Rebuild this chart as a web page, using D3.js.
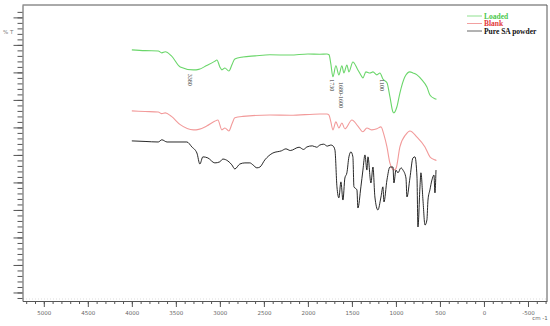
<!DOCTYPE html>
<html>
<head>
<meta charset="utf-8">
<script src="https://cdn.jsdelivr.net/npm/d3@7"></script>
<style>
  body { margin: 0; background: #fff; }
  svg { display: block; }
</style>
</head>
<body>
<div id="graph"></div>
<script>
// FTIR spectra, wavenumber (cm-1) vs %T, curves offset as in the original
const loadedWn = [4000, 3850, 3700, 3660, 3620, 3550, 3450, 3300, 3240, 3150, 3060, 3034, 3000, 2977, 2943, 2898, 2860, 2830, 2739, 2600, 2432, 2200, 2000, 1864, 1784, 1760, 1739, 1716, 1682, 1648, 1614, 1591, 1557, 1534, 1489, 1432, 1386, 1375, 1341, 1295, 1261, 1216, 1182, 1148, 1102, 1068, 1034, 1023, 989, 955, 898, 841, 807, 761, 705, 648, 614, 557, 540];
const loadedT = [88.2, 87.9, 87.8, 87.1, 87.5, 86.0, 82.0, 80.9, 81.1, 82.5, 84.0, 84.5, 82.0, 80.9, 81.6, 80.5, 83.0, 84.9, 85.6, 86.0, 86.4, 86.3, 86.7, 86.6, 86.7, 86.4, 83.0, 78.4, 82.4, 79.1, 82.4, 79.8, 82.7, 80.2, 83.8, 80.9, 78.4, 78.0, 80.2, 79.8, 80.2, 79.1, 79.8, 77.6, 76.2, 71.1, 65.6, 65.3, 67.5, 72.5, 78.4, 80.2, 79.8, 79.1, 77.3, 74.7, 71.8, 70.4, 70.2];

const blankWn = [4000, 3850, 3700, 3660, 3620, 3550, 3450, 3300, 3240, 3150, 3060, 3023, 2977, 2943, 2898, 2860, 2830, 2739, 2432, 2200, 1864, 1784, 1760, 1739, 1716, 1682, 1648, 1614, 1580, 1500, 1432, 1375, 1330, 1273, 1216, 1170, 1136, 1102, 1068, 1023, 1000, 955, 886, 841, 761, 670, 614, 557, 540];
const blankT = [66.0, 65.8, 65.6, 65.0, 65.3, 64.0, 61.0, 59.1, 59.3, 60.5, 62.2, 62.7, 59.1, 59.8, 58.7, 61.5, 63.5, 64.0, 64.5, 64.4, 64.9, 64.9, 64.5, 62.0, 59.1, 62.0, 59.8, 61.6, 59.5, 62.7, 60.5, 58.4, 59.8, 59.1, 59.5, 60.2, 57.3, 52.9, 47.0, 44.5, 45.0, 52.9, 57.5, 58.7, 56.5, 52.9, 49.3, 48.2, 48.0];

const pureWn = [4000, 3850, 3700, 3659, 3600, 3375, 3318, 3261, 3227, 3193, 3136, 3057, 3000, 2966, 2909, 2864, 2830, 2773, 2716, 2659, 2625, 2580, 2545, 2489, 2398, 2300, 2250, 2200, 2100, 2050, 2011, 1950, 1900, 1864, 1820, 1780, 1740, 1716, 1693, 1670, 1648, 1625, 1602, 1580, 1557, 1534, 1511, 1489, 1477, 1443, 1432, 1398, 1375, 1352, 1330, 1318, 1284, 1261, 1239, 1205, 1170, 1148, 1136, 1102, 1068, 1034, 1023, 1000, 977, 943, 920, 886, 875, 841, 807, 784, 761, 750, 727, 716, 693, 670, 648, 636, 614, 591, 568, 557, 545];
const pureT = [55.1, 54.9, 54.7, 55.5, 54.7, 54.7, 52.9, 50.7, 46.7, 49.3, 48.9, 47.1, 47.5, 48.5, 47.8, 46.4, 44.9, 46.7, 47.1, 47.1, 46.4, 45.3, 45.6, 48.2, 50.7, 51.5, 52.2, 51.6, 52.8, 52.0, 52.9, 53.3, 52.8, 53.6, 53.9, 53.2, 53.6, 53.3, 51.8, 38.4, 34.4, 40.2, 33.6, 41.6, 43.5, 49.3, 51.1, 49.3, 38.4, 37.3, 30.7, 38.4, 44.5, 50.0, 44.5, 49.3, 39.8, 45.6, 34.7, 30.0, 34.7, 38.4, 32.9, 40.9, 45.6, 45.6, 39.8, 44.5, 43.5, 45.3, 44.5, 41.6, 34.7, 41.6, 48.9, 49.3, 42.0, 23.8, 38.4, 43.5, 33.6, 24.5, 26.4, 33.6, 37.3, 40.9, 42.7, 36.2, 44.5];

const seriesNames = ["Loaded", "Blank", "Pure SA powder"];
const lineColors = ["#6ad66a", "#f29a9a", "#111"];
const legendColors = ["#4cc84c", "#e23a3a", "#111"];
const legendLineColors = ["#8fe08f", "#f2a0a0", "#666"];

// peak labels: text, wavenumber position, %T position (top of text)
const peakText = ["3380", "1730", "1680-1600", "1100"];
const peakWn = [3340, 1725, 1620, 1160];
const peakT = [79.5, 77.5, 76.5, 77.5];

const xTicksMajor = d3.range(5000, -501, -500);
const xTicksMinor = d3.range(5200, -701, -100);

const W = 550, H = 326;
const svg = d3.select("#graph").append("svg").attr("width", W).attr("height", H);

const x = d3.scaleLinear().domain([5242, -716]).range([22.5, 547]);
const y = d3.scaleLinear().domain([-3.1, 104.5]).range([301, 5]);

// frame top and right
svg.append("path")
  .attr("d", `M${x.range()[0]},5H547V301`)
  .attr("fill", "none").attr("stroke", "#555").attr("stroke-width", 1);

// faint dotted baseline
svg.append("line")
  .attr("x1", 23).attr("x2", 546).attr("y1", 299).attr("y2", 299)
  .attr("stroke", "#ddd").attr("stroke-dasharray", "1,2");

// x axis
const xAxisMinor = d3.axisBottom(x).tickValues(xTicksMinor).tickSize(3).tickFormat("");
const xAxis = d3.axisBottom(x).tickValues(xTicksMajor).tickSize(6).tickSizeOuter(0)
  .tickPadding(4).tickFormat(d => String(d));
svg.append("g").attr("transform", "translate(0,301)").call(xAxisMinor)
  .call(g => g.select(".domain").remove())
  .selectAll("line").attr("stroke", "#555");
const gx = svg.append("g").attr("transform", "translate(0,301)").call(xAxis);
gx.select(".domain").attr("stroke", "#555");
gx.selectAll("line").attr("stroke", "#555");
gx.selectAll("text").attr("font-family", "DejaVu Sans").attr("font-size", 5.5).attr("fill", "#666");

svg.append("text").attr("x", 540).attr("y", 320).attr("text-anchor", "middle")
  .attr("font-family", "DejaVu Sans").attr("font-size", 5.5).attr("fill", "#666").text("cm -1");

// y axis
const yAxisMinor = d3.axisLeft(y).tickValues(d3.range(-2, 104, 2)).tickSize(5).tickFormat("");
const yAxis = d3.axisLeft(y).tickValues(d3.range(0, 101, 10)).tickSize(9).tickSizeOuter(0).tickFormat("");
svg.append("g").attr("transform", "translate(22.5,0)").call(yAxisMinor)
  .call(g => g.select(".domain").remove())
  .selectAll("line").attr("stroke", "#555");
const gy = svg.append("g").attr("transform", "translate(22.5,0)").call(yAxis);
gy.select(".domain").attr("stroke", "#555");
gy.selectAll("line").attr("stroke", "#555");

svg.append("text").attr("x", 3).attr("y", 34)
  .attr("font-family", "DejaVu Sans").attr("font-size", 5.5).attr("fill", "#777").text("% T");

// spectra
const line = d3.line().x(d => x(d[0])).y(d => y(d[1])).curve(d3.curveMonotoneX);
const series = [
  d3.zip(loadedWn, loadedT),
  d3.zip(blankWn, blankT),
  d3.zip(pureWn, pureT)
];
svg.selectAll("path.spec")
  .data(series)
  .join("path")
  .attr("class", "spec")
  .attr("d", d => line(d))
  .attr("fill", "none")
  .attr("stroke", (d, i) => lineColors[i])
  .attr("stroke-width", (d, i) => i === 2 ? 0.9 : 1.1);

// peak labels, rotated
svg.selectAll("text.peak")
  .data(peakText)
  .join("text")
  .attr("class", "peak")
  .attr("transform", (d, i) => `translate(${x(peakWn[i])},${y(peakT[i])}) rotate(90)`)
  .attr("dy", "0.35em")
  .attr("font-family", "Liberation Serif")
  .attr("font-size", 6)
  .attr("fill", "#333")
  .text(d => d);

// legend
const legend = svg.append("g").attr("transform", "translate(467,16)");
const items = legend.selectAll("g").data(seriesNames).join("g")
  .attr("transform", (d, i) => `translate(0,${i * 7.5})`);
items.append("line").attr("x1", 0).attr("x2", 15)
  .attr("stroke", (d, i) => legendLineColors[i]).attr("stroke-width", 1);
items.append("text").attr("x", 17).attr("dy", "0.35em")
  .attr("font-family", "Liberation Serif").attr("font-weight", "bold").attr("font-size", 7.5)
  .attr("fill", (d, i) => legendColors[i]).text(d => d);
</script>
</body>
</html>
